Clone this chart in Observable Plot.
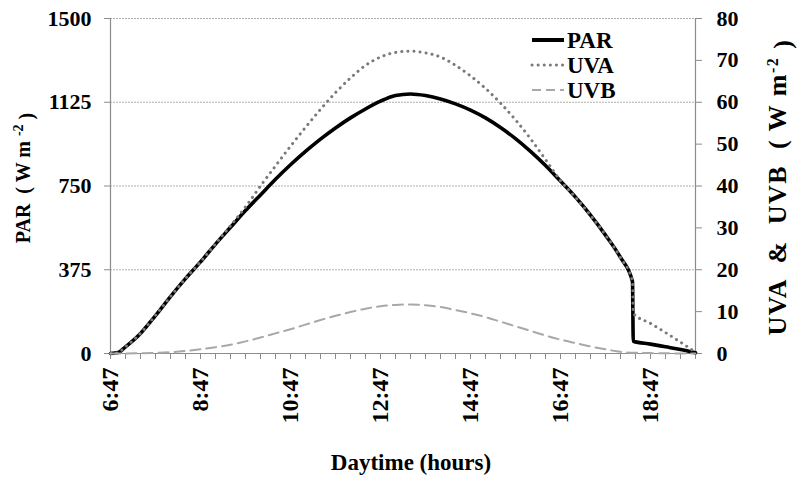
<!DOCTYPE html>
<html>
<head>
<meta charset="utf-8">
<script src="https://cdn.jsdelivr.net/npm/d3@7"></script>
<script src="https://cdn.jsdelivr.net/npm/@observablehq/plot@0.6"></script>
<style>
  body { margin: 0; background: #fff; }
  #chart svg { display: block; }
</style>
</head>
<body>
<div id="chart"></div>
<script>
// Clock times of the samples (daytime)
const times = ["6:47","6:57","7:07","7:27","7:47","8:07","8:27","8:47","9:07","9:27","9:47",
  "10:07","10:27","10:47","11:07","11:27","11:47","12:07","12:27","12:47","13:07","13:27",
  "13:47","14:07","14:27","14:47","15:07","15:27","15:47","16:07","16:27","16:47","17:07",
  "17:27","17:47","18:07","18:23","18:24","18:47","19:07","19:27","19:47"];
// PAR (W m-2), left axis
const par = [0,4,30,90,170,255,335,410,490,565,640,
  710,780,845,905,960,1010,1055,1095,1130,1155,1162,
  1155,1140,1118,1090,1055,1012,962,905,842,772,700,
  620,530,430,322,55,42,30,18,3];
// UVA (W m-2), right axis
const uva = [0,0.2,1.6,4.8,9.1,13.6,17.9,21.9,26.2,30.5,35,
  40,44.8,49.5,54,58.3,62.3,65.8,68.8,70.8,71.9,72.2,
  71.8,70.8,68.8,66.3,63.3,59.8,55.8,51.3,46.3,41.3,37.3,
  33,28.3,22.9,17.2,9.6,7.2,5,2.7,0.3];
// UVB (W m-2), right axis
const uvb = [0,0,0,0.05,0.15,0.3,0.6,1.0,1.5,2.1,2.9,
  3.8,4.8,5.8,6.9,8.0,9.0,9.9,10.7,11.3,11.6,11.7,
  11.5,11.1,10.4,9.6,8.7,7.6,6.5,5.4,4.3,3.3,2.5,
  1.7,1.0,0.4,0.2,0.2,0.1,0.05,0,0];

const parTicks = [0, 375, 750, 1125, 1500];
const uvTicks = [0, 10, 20, 30, 40, 50, 60, 70, 80];
const xTickLabels = ["6:47","8:47","10:47","12:47","14:47","16:47","18:47"];
const xStart = "6:47", xEnd = "19:47";
const minorStep = 20; // minutes between minor ticks

const toMin = s => { const [h, m] = s.split(":").map(Number); return h * 60 + m; };
const t0 = toMin(xStart), t1 = toMin(xEnd);
const fmt = m => { const v = m + t0; return Math.floor(v / 60) + ":" + String(v % 60).padStart(2, "0"); };
const k = 1500 / 80; // right-axis to left-axis factor

const data = times.map((t, i) => ({t: toMin(t) - t0, par: par[i], uva: uva[i] * k, uvb: uvb[i] * k}));
const minorTicks = d3.range(0, t1 - t0 + 1, minorStep);
const majorTicks = xTickLabels.map(s => toMin(s) - t0);

const serif = '"Liberation Serif", "Times New Roman", serif';
const axisGray = "#8c8c8c";

const svg = Plot.plot({
  width: 800,
  height: 483,
  marginLeft: 110,
  marginRight: 105,
  marginTop: 18,
  marginBottom: 130,
  style: {fontFamily: serif, background: "#fff", color: "#000"},
  x: {domain: [0, t1 - t0]},
  y: {domain: [0, 1500]},
  marks: [
    Plot.gridY(parTicks.slice(1), {stroke: "#9a9a9a", strokeOpacity: 1, strokeWidth: 0.8, strokeDasharray: "2,1"}),
    Plot.ruleX([0, t1 - t0], {stroke: axisGray, strokeWidth: 1.2}),
    Plot.ruleY([0], {stroke: axisGray, strokeWidth: 1.2}),
    Plot.axisY(parTicks, {anchor: "left", tickSize: 6, tickPadding: 13, stroke: axisGray, fill: "#000",
      fontSize: 22, fontWeight: "bold", label: null, tickFormat: d => String(d)}),
    Plot.axisY(uvTicks.map(v => v * k), {anchor: "right", tickSize: 6, tickPadding: 15, stroke: axisGray, fill: "#000",
      fontSize: 22, fontWeight: "bold", label: null, tickFormat: d => String(Math.round(d / k))}),
    Plot.axisX(minorTicks, {tickSize: 6, stroke: axisGray, tickFormat: () => "", label: null}),
    Plot.axisX(majorTicks, {tickSize: 0, tickPadding: 14, tickRotate: -90, fill: "#000",
      fontSize: 24, fontWeight: "bold", label: null, tickFormat: fmt}),
    Plot.line(data, {x: "t", y: "par", stroke: "#000", strokeWidth: 3.6, curve: "monotone-x"}),
    Plot.line(data, {x: "t", y: "uva", stroke: "#7a7a7a", strokeWidth: 3, strokeDasharray: "0.1,6",
      strokeLinecap: "round", curve: "monotone-x"}),
    Plot.line(data, {x: "t", y: "uvb", stroke: "#a8a8a8", strokeWidth: 2, strokeDasharray: "10,6", curve: "monotone-x"})
  ]
});

const s = d3.select(svg);
const titleStyle = t => t.attr("font-family", serif).attr("font-weight", "bold").attr("fill", "#000").style("white-space", "pre");

// Left axis title
const lt = s.append("text").attr("transform", "translate(30,178) rotate(-90)").attr("text-anchor", "middle").attr("font-size", 20);
titleStyle(lt);
lt.append("tspan").text("PAR  ( W m ");
lt.append("tspan").attr("dy", "-0.5em").attr("font-size", 14).text("-2");
lt.append("tspan").attr("dy", "0.5em").text(" )");

// Right axis title
const rt = s.append("text").attr("transform", "translate(786,187) rotate(-90)").attr("text-anchor", "middle")
  .attr("font-size", 26).attr("letter-spacing", 1.5);
titleStyle(rt);
rt.append("tspan").text("UVA  &  UVB  ( W m");
rt.append("tspan").attr("dy", "-0.5em").attr("font-size", 16).text("-2");
rt.append("tspan").attr("dy", "0.5em").text(" )");

// X axis title
const xt = s.append("text").attr("x", 411).attr("y", 470).attr("text-anchor", "middle").attr("font-size", 23).text("Daytime (hours)");
titleStyle(xt);

// Legend
const legend = [
  {name: "PAR", stroke: "#000", width: 4, dash: null, cap: "butt"},
  {name: "UVA", stroke: "#7a7a7a", width: 3, dash: "0.1,6", cap: "round"},
  {name: "UVB", stroke: "#a8a8a8", width: 2, dash: "9,5", cap: "butt"}
];
const lg = s.append("g");
legend.forEach((d, i) => {
  const y = 40 + i * 25;
  lg.append("line").attr("x1", 532).attr("x2", 564).attr("y1", y).attr("y2", y)
    .attr("stroke", d.stroke).attr("stroke-width", d.width).attr("stroke-linecap", d.cap)
    .attr("stroke-dasharray", d.dash);
  const tx = lg.append("text").attr("x", 567).attr("y", y).attr("dy", "0.35em").attr("text-anchor", "start")
    .attr("font-size", 23).text(d.name);
  titleStyle(tx);
});

document.getElementById("chart").appendChild(svg);
</script>
</body>
</html>
